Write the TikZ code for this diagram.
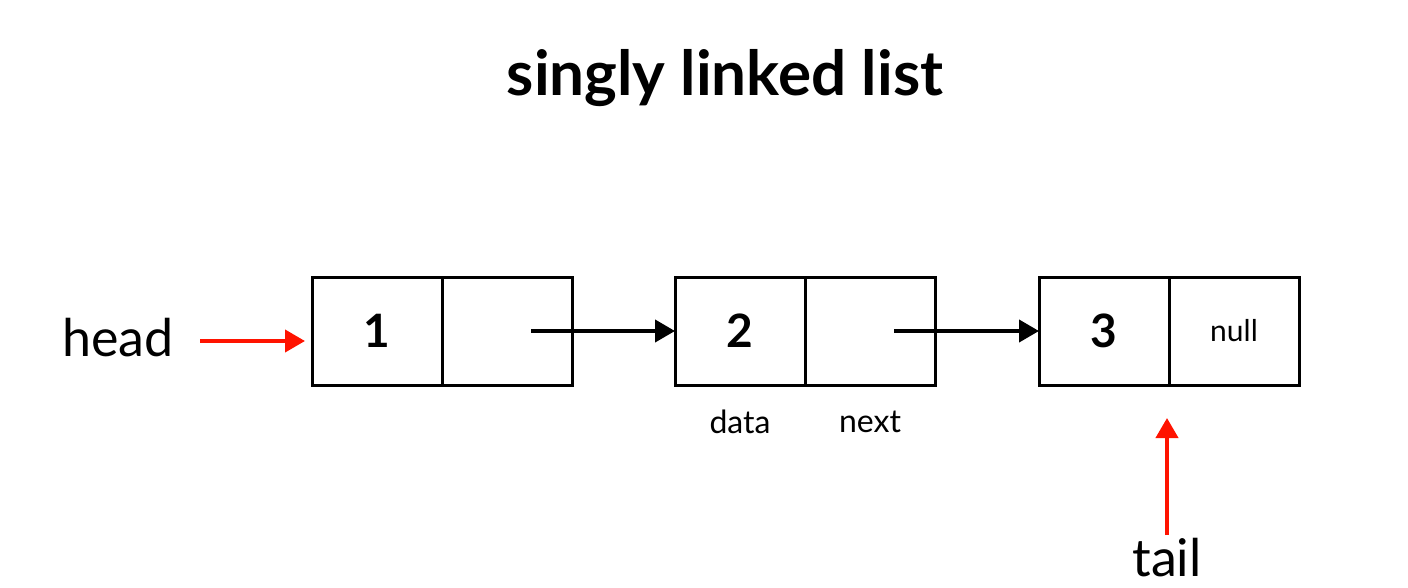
\documentclass[tikz,border=0pt]{standalone}
\usepackage{fontspec}
\setmainfont{Lato}
\usetikzlibrary{positioning,arrows.meta}
\tikzset{
  cell/.style={draw, line width=3pt, outer sep=0pt, minimum width=130pt, minimum height=108pt, inner sep=0pt, font=\bfseries\fontsize{46}{50}\selectfont},
  link/.style={line width=4pt, -{Triangle[length=20pt,width=22pt]}},
  pointer/.style={line width=4pt, red!85!orange, -{Triangle[length=20pt,width=22pt]}},
  label/.style={font=\fontsize{32}{36}\selectfont}
}
\begin{document}
\begin{tikzpicture}[x=1pt,y=-1pt]
        \useasboundingbox (0,0) rectangle (1408,587);

        % Title
        \node (title) at (725,78) {\bfseries\fontsize{62}{68}\selectfont singly linked list};

        % Draw the nodes of the list
        \node[cell] (d1) at (377,331) {1};
        \node[cell, right=0pt of d1] (n1) {};
        \node[cell] (d2) at (740,331) {2};
        \node[cell, right=0pt of d2] (n2) {};
        \node[cell] (d3) at (1104,331) {3};
        \node[cell, right=0pt of d3, font=\fontsize{30}{34}\selectfont] (n3) {null};

        % Draw the links
        \draw[link] ([xshift=24pt]n1.center) -- (d2.west);
        \draw[link] ([xshift=24pt]n2.center) -- (d3.west);

        % Field labels
        \node[label] (datalbl) at (740,422) {data};
        \node[label] (nextlbl) at (870,422) {next};

        % Head and tail pointers
        \node[font=\fontsize{52}{56}\selectfont] (head) at (118,338) {head};
        \coordinate (headtip) at (305,341);
        \coordinate (headtail) at (200,341);
        \draw[pointer] (headtail) -- (headtip);
        \node[font=\fontsize{52}{56}\selectfont] (tail) at (1167,558) {tail};
        \coordinate (tailtip) at (1167,418);
        \draw[pointer] (tail.north) -- (tailtip);

    \end{tikzpicture}
\end{document}
